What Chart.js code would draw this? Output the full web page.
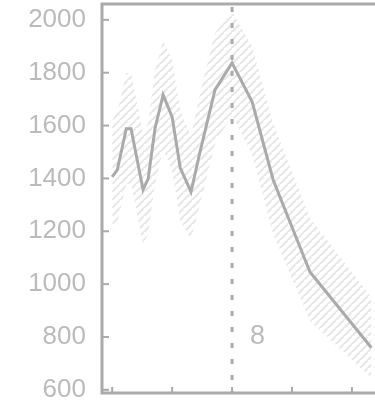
<!DOCTYPE html>
<html>
<head>
<meta charset="utf-8">
<script src="https://cdn.jsdelivr.net/npm/chart.js@4"></script>
<style>
  html, body { margin: 0; padding: 0; background: #fff; overflow: hidden; }
  #wrap { width: 375px; height: 403px; }
</style>
</head>
<body>
<div id="wrap"><canvas id="myChart" width="375" height="403"></canvas></div>
<script>
const xs = [4.0, 4.17, 4.47, 4.63, 5.03, 5.2, 5.43, 5.7, 6.0, 6.27, 6.63, 6.93, 7.43, 8.0, 8.67, 9.37, 10.6, 12.65];
const values = [1406, 1432, 1588, 1588, 1357, 1398, 1590, 1716, 1633, 1440, 1349, 1500, 1735, 1837, 1690, 1395, 1046, 759];
const upper = [1620, 1650, 1800, 1800, 1570, 1610, 1810, 1920, 1850, 1660, 1560, 1720, 1950, 2030, 1900, 1610, 1250, 950];
const lower = [1200, 1230, 1380, 1380, 1150, 1190, 1380, 1510, 1430, 1240, 1170, 1300, 1530, 1640, 1490, 1190, 860, 645];
const yTicks = [600, 800, 1000, 1200, 1400, 1600, 1800, 2000];
const xTicks = [4, 6, 8, 10, 12];
const markX = 8;
const markLabel = '8';

const grey = '#aaaaaa';
const labelGrey = '#bbbbbb';

// diagonal hatch for the band, little gaps between the strokes
function hatch() {
    const c = document.createElement('canvas');
    c.width = 8;
    c.height = 8;
    const g = c.getContext('2d');
    g.strokeStyle = '#e8e8e8';
    g.lineWidth = 2.2;
    g.lineCap = 'butt';
    g.beginPath();
    g.moveTo(-1, 9);
    g.lineTo(7.6, 0.4);
    g.moveTo(7, 9);
    g.lineTo(9, 7);
    g.stroke();
    return g.createPattern(c, 'repeat');
}

const pts = arr => arr.map((v, i) => ({ x: xs[i], y: v }));

// frame, inward ticks, marker line and its label
const frame = {
    id: 'frame',
    afterDraw(chart) {
        const ctx = chart.ctx;
        const a = chart.chartArea;
        const xs_ = chart.scales.x;
        const ys_ = chart.scales.y;
        ctx.save();
        ctx.strokeStyle = grey;
        ctx.lineWidth = 3;
        ctx.beginPath();
        ctx.moveTo(a.right + 5, a.top);
        ctx.lineTo(a.left, a.top);
        ctx.lineTo(a.left, a.bottom);
        ctx.lineTo(a.right + 5, a.bottom);
        ctx.stroke();

        ctx.lineWidth = 2;
        yTicks.forEach(v => {
            const p = ys_.getPixelForValue(v);
            ctx.beginPath();
            ctx.moveTo(a.left, p);
            ctx.lineTo(a.left + 7, p);
            ctx.stroke();
        });
        xTicks.forEach(v => {
            const p = xs_.getPixelForValue(v);
            ctx.beginPath();
            ctx.moveTo(p, a.bottom);
            ctx.lineTo(p, a.bottom - 6);
            ctx.stroke();
        });

        const mx = xs_.getPixelForValue(markX);
        ctx.lineWidth = 3;
        ctx.setLineDash([5, 11]);
        ctx.beginPath();
        ctx.moveTo(mx, a.top + 3);
        ctx.lineTo(mx, a.bottom);
        ctx.stroke();
        ctx.setLineDash([]);

        ctx.fillStyle = labelGrey;
        ctx.font = '27px "Liberation Sans", Arial, sans-serif';
        ctx.textAlign = 'left';
        ctx.textBaseline = 'middle';
        ctx.fillText(markLabel, mx + 18, ys_.getPixelForValue(800));
        ctx.restore();
    }
};

const cts = document.querySelector('#myChart').getContext('2d');

const data = {
    datasets: [
        {
            data: pts(upper),
            borderWidth: 0,
            pointRadius: 0,
            backgroundColor: hatch(),
            fill: '+1',
            order: 2,
        },
        {
            data: pts(lower),
            borderWidth: 0,
            pointRadius: 0,
            fill: false,
            order: 2,
        },
        {
            data: pts(values),
            borderColor: grey,
            borderWidth: 3,
            pointRadius: 0,
            fill: false,
            tension: 0,
            order: 0,
        },
    ],
}

const config = {
    type: 'line',
    data: data,
    options: {
        responsive: false,
        animation: false,
        layout: { padding: { top: 4, right: 0, left: 0, bottom: 0 } },
        plugins: { legend: { display: false }, tooltip: { enabled: false } },
        scales: {
            x: {
                type: 'linear',
                min: 3.66,
                max: 12.77,
                afterBuildTicks: s => { s.ticks = xTicks.map(v => ({ value: v })); },
                afterFit: s => { s.height = 10; s.paddingLeft = 0; s.paddingRight = 0; },
                ticks: { display: false },
                grid: { display: false },
                border: { display: false },
            },
            y: {
                min: 588,
                max: 2060,
                afterBuildTicks: s => { s.ticks = yTicks.map(v => ({ value: v })); },
                afterFit: s => { s.width = 102; s.paddingTop = 0; s.paddingBottom = 0; },
                ticks: {
                    color: labelGrey,
                    padding: 16,
                    callback: v => String(v),
                    font: { family: '"Liberation Sans", Arial, sans-serif', size: 26 },
                },
                grid: { display: false, drawTicks: false },
                border: { display: false },
            },
        },
    },
    plugins: [frame],
}

const myChart = new Chart(cts, config)
</script>
</body>
</html>
